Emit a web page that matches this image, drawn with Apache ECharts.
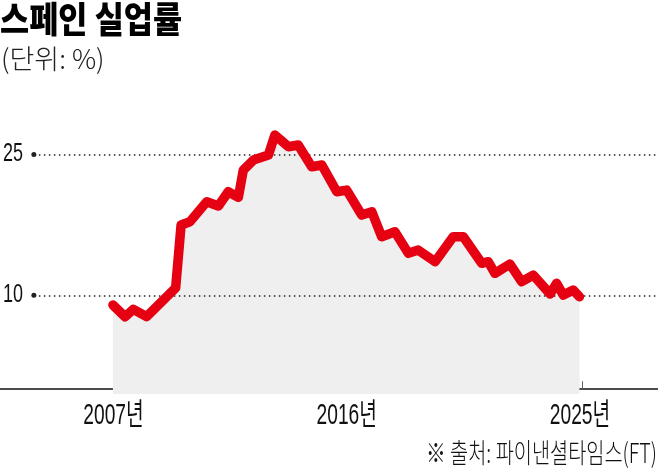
<!DOCTYPE html>
<html>
<head>
<meta charset="utf-8">
<script src="https://cdn.jsdelivr.net/npm/echarts@6/dist/echarts.min.js"></script>
<style>
	html, body { margin: 0; padding: 0; background: #fff; }
	#chart { width: 658px; height: 469px; }
</style>
</head>
<body>
<div id="chart"></div>
<script>
// values (decimal year, %)
var years = [2006.90, 2007.37, 2007.69, 2008.20, 2009.32, 2009.53, 2009.87, 2010.52, 2010.97, 2011.35,
	2011.74, 2011.93, 2012.32, 2012.90, 2013.15, 2013.67, 2014.05, 2014.57, 2014.96, 2015.54,
	2015.92, 2016.50, 2016.89, 2017.27, 2017.78, 2018.30, 2018.68, 2019.33, 2020.03, 2020.42,
	2021.13, 2021.38, 2021.64, 2022.22, 2022.67, 2023.12, 2023.77, 2024.02, 2024.28, 2024.66, 2024.90];
var rates = [8.97, 7.72, 8.51, 7.72, 10.78, 17.49, 17.84, 19.97, 19.51, 21.03,
	20.44, 23.34, 24.41, 24.94, 27.07, 25.83, 26.01, 23.70, 23.88, 21.03,
	21.21, 18.55, 18.90, 16.24, 16.77, 14.47, 14.82, 13.58, 16.24, 16.24,
	13.41, 13.58, 12.34, 13.33, 11.45, 12.16, 10.14, 11.28, 10.03, 10.56, 9.85];
var xTicks = [2007, 2016, 2025];
var xTickLabels = ['2007년', '2016년', '2025년'];
var yTicks = [10, 25];

var dom = document.getElementById('chart');
var myChart = echarts.init(dom);

var xMin = 2002.543;
var xMax = 2027.932;
var lineStart = 2003.85;

var points = years.map(function(y, i) {
	return [y, rates[i]];
});

var gridLines = yTicks.map(function(v) {
	return [{ coord: [lineStart, v] }, { coord: [xMax, v] }];
});

var option = {
	backgroundColor: '#fff',
	animation: false,
	grid: {
		left: 0,
		right: 0,
		top: 107.55,
		bottom: 75.1
	},
	xAxis: {
		type: 'value',
		min: xMin,
		max: xMax,
		axisLine: {
			lineStyle: { color: '#111', width: 1.5 }
		},
		axisTick: {
			customValues: xTicks,
			inside: true,
			length: 8,
			lineStyle: { color: '#666', width: 1 }
		},
		// labels are drawn as narrowed text below
		axisLabel: { show: false },
		splitLine: { show: false }
	},
	yAxis: {
		type: 'value',
		min: -0.5,
		max: 30,
		axisLine: { show: false },
		axisTick: { show: false },
		axisLabel: { show: false },
		splitLine: { show: false }
	},
	series: [{
		// grey fill under the curve
		type: 'line',
		data: points,
		symbol: 'none',
		silent: true,
		z: 1,
		lineStyle: { width: 0, opacity: 0 },
		areaStyle: { color: '#efefef', opacity: 1, origin: 'start' },
		markLine: {
			silent: true,
			z: 5,
			symbol: ['circle', 'none'],
			symbolSize: 5,
			label: { show: false },
			lineStyle: { color: '#222', width: 1.5, type: [1.5, 3.5] },
			data: gridLines
		}
	}, {
		type: 'line',
		data: points,
		symbol: 'none',
		silent: true,
		z: 10,
		lineStyle: {
			color: '#e50012',
			width: 9.5,
			cap: 'round',
			join: 'round'
		}
	}]
};

myChart.setOption(option);

// condensed text, the original uses a narrow typeface
var graphics = [{
	type: 'text',
	x: 0,
	y: 19,
	scaleX: 0.88,
	style: {
		text: '스페인 실업률',
		align: 'left',
		verticalAlign: 'middle',
		font: '900 36px "Noto Sans CJK KR"',
		fill: '#000'
	}
}, {
	type: 'text',
	x: 1,
	y: 59,
	scaleX: 1.0,
	style: {
		text: '(단위: %)',
		align: 'left',
		verticalAlign: 'middle',
		font: '300 27px "Noto Sans CJK KR"',
		fill: '#222'
	}
}, {
	type: 'text',
	x: 657,
	y: 453,
	scaleX: 0.73,
	style: {
		text: '※ 출처: 파이낸셜타임스(FT)',
		align: 'right',
		verticalAlign: 'middle',
		font: '300 27px "Noto Sans CJK KR"',
		fill: '#111'
	}
}];

xTicks.forEach(function(v, i) {
	var p = myChart.convertToPixel({ gridIndex: 0 }, [v, 0]);
	graphics.push({
		type: 'text',
		x: p[0] - 2,
		y: 416,
		scaleX: 0.64,
		style: {
			text: xTickLabels[i],
			align: 'center',
			verticalAlign: 'middle',
			font: '30px "Liberation Sans", "Noto Sans CJK KR"',
			fill: '#111'
		}
	});
});

yTicks.forEach(function(v) {
	var p = myChart.convertToPixel({ gridIndex: 0 }, [xMin, v]);
	graphics.push({
		type: 'text',
		x: 3,
		y: p[1],
		scaleX: 0.72,
		style: {
			text: String(v),
			align: 'left',
			verticalAlign: 'middle',
			font: '25px "Liberation Sans"',
			fill: '#111'
		}
	});
});

myChart.setOption({ graphic: graphics });
</script>
</body>
</html>
